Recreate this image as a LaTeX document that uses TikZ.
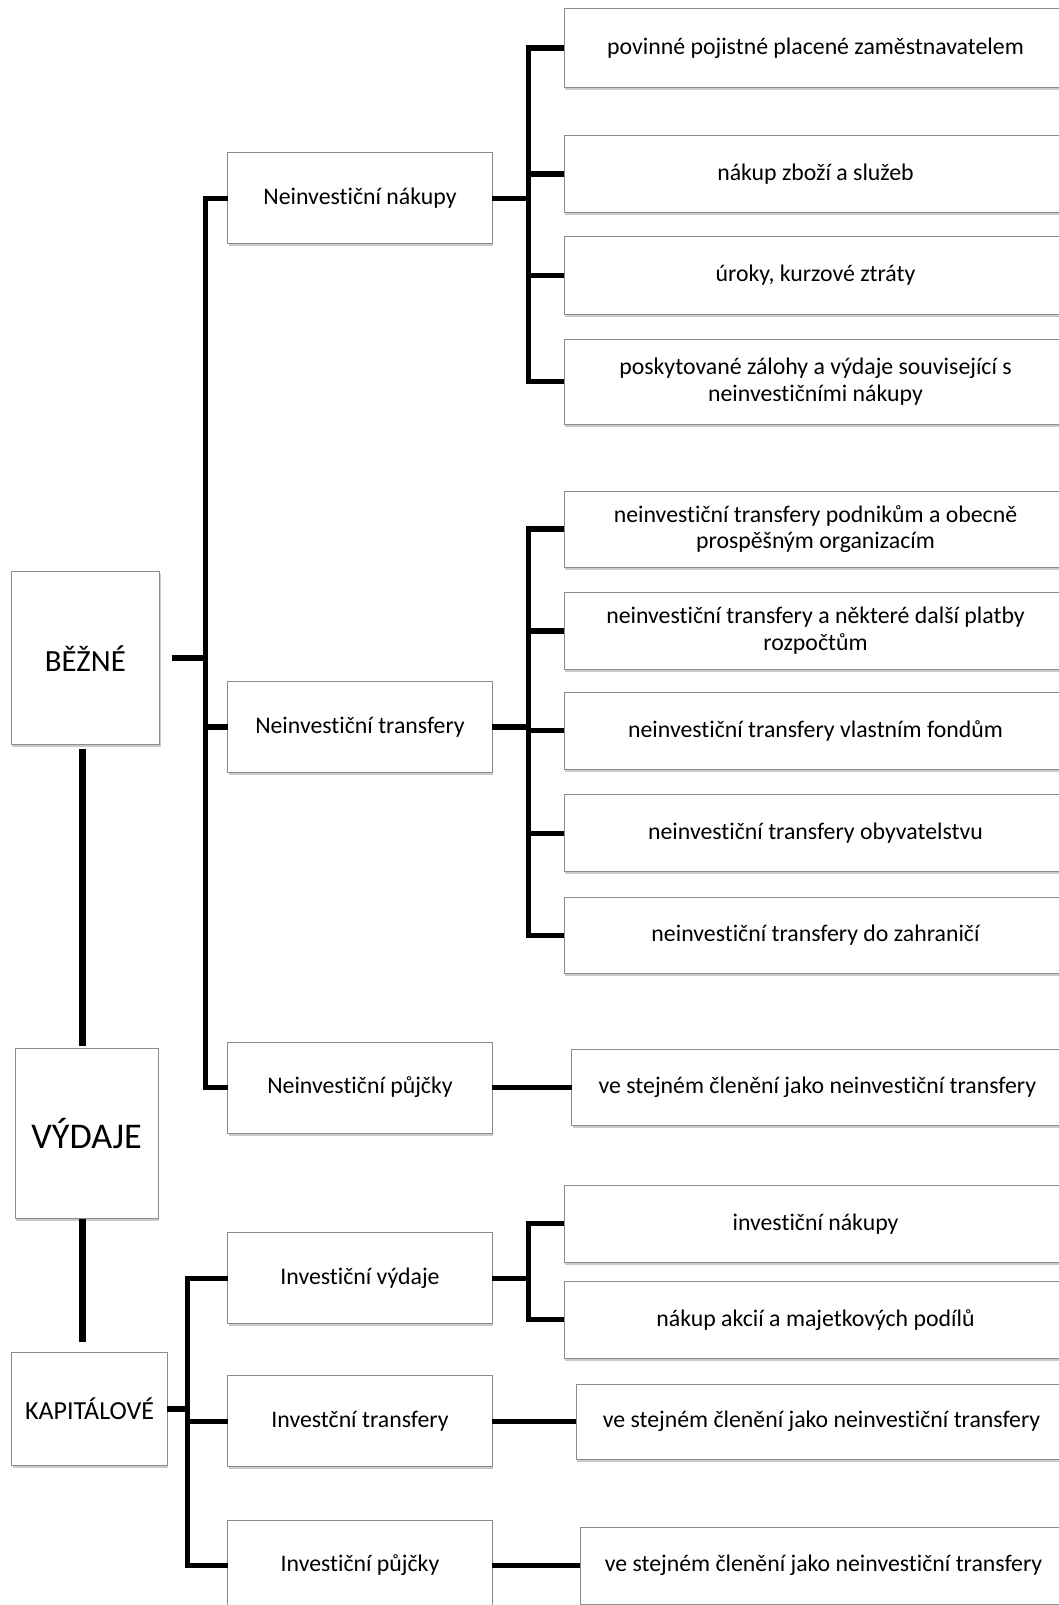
\documentclass[tikz,border=0pt]{standalone}
\usepackage{fontspec}
\setmainfont{Carlito}[Ligatures=CommonOff]
\usetikzlibrary{shadows}
\begin{document}
\begin{tikzpicture}[x=1pt,y=-1pt,
  box/.style={draw=black!45, line width=1pt, fill=white, inner sep=0pt, outer sep=0pt,
    align=center, font=\fontsize{23.8}{26.5}\selectfont,
    drop shadow={shadow xshift=1pt, shadow yshift=-2.5pt, opacity=0.35, fill=black!60}},
  bx/.style 2 args={box, minimum width=#1, minimum height=#2},
  conn/.style={line width=5.5pt, line join=miter, black},
  mainline/.style={line width=6.5pt, black}]
\useasboundingbox (0,0) rectangle (1058,1605);

% left column
\node[bx={148.5pt}{173pt}, font=\fontsize{30.8}{36}\selectfont] (bezne) at (85.3,658.2) {BĚŽNÉ};
\node[bx={143.3pt}{170.3pt}, font=\fontsize{36.2}{42}\selectfont] (vydaje) at (86.7,1133.8) {VÝDAJE};
\node[bx={155.6pt}{113pt}, font=\fontsize{26}{30}\selectfont] (kap) at (89.5,1409.2) {KAPITÁLOVÉ};

% middle column
\node[bx={264.6pt}{91pt}] (nn) at (360,198.3) {Neinvestiční nákupy};
\node[bx={264.6pt}{91pt}] (nt) at (360,727) {Neinvestiční transfery};
\node[bx={264.6pt}{91pt}] (np) at (360,1087.5) {Neinvestiční půjčky};
\node[bx={264.6pt}{91pt}] (iv) at (360,1278.3) {Investiční výdaje};
\node[bx={264.6pt}{91pt}] (it) at (360,1421.3) {Investční transfery};
\node[bx={264.6pt}{91pt}] (ip) at (360,1565.5) {Investiční půjčky};

% right column
\node[bx={503pt}{79pt}] (a1) at (815.5,47.8) {povinné pojistné placené zaměstnavatelem};
\node[bx={503pt}{77pt}] (a2) at (815.5,174.2) {nákup zboží a služeb};
\node[bx={503pt}{77pt}] (a3) at (815.5,275.5) {úroky, kurzové ztráty};
\node[bx={503pt}{85pt}] (a4) at (815.5,381.5) {poskytované zálohy a výdaje související s\\neinvestičními nákupy};

\node[bx={503pt}{76.3pt}] (b1) at (815.5,529.2) {neinvestiční transfery podnikům a obecně\\prospěšným organizacím};
\node[bx={503pt}{77pt}] (b2) at (815.5,630.8) {neinvestiční transfery a některé další platby\\rozpočtům};
\node[bx={503pt}{76.7pt}] (b3) at (815.5,730.7) {neinvestiční transfery vlastním fondům};
\node[bx={503pt}{76.7pt}] (b4) at (815.5,833.3) {neinvestiční transfery obyvatelstvu};
\node[bx={503pt}{76.7pt}] (b5) at (815.5,935.6) {neinvestiční transfery do zahraničí};

\node[bx={491.3pt}{76pt}] (c1) at (817.4,1087) {ve stejném členění jako neinvestiční transfery};

\node[bx={503pt}{77.3pt}] (d1) at (815.5,1223.7) {investiční nákupy};
\node[bx={503pt}{77.3pt}] (d2) at (815.5,1319.7) {nákup akcií a majetkových podílů};

\node[bx={491pt}{75.3pt}] (e1) at (821.5,1421.7) {ve stejném členění jako neinvestiční transfery};
\node[bx={487pt}{77pt}] (f1) at (823.5,1565.7) {ve stejném členění jako neinvestiční transfery};

% bus positions
\coordinate (vx) at (82.3,0);
\coordinate (bA) at (205.7,0);
\coordinate (bB) at (187.3,0);
\coordinate (rx) at (528.3,0);

% main vertical lines
\draw[mainline, shorten <=4.6pt, shorten >=3pt] (vx |- bezne.south) -- (vx |- vydaje.north);
\draw[mainline, shorten >=11pt] (vx |- vydaje.south) -- (vx |- kap.north);

% connectors
\foreach \c in {nn,nt,np}
  \draw[conn, shorten <=12.5pt] (bezne.east) -- (bA |- bezne.east) |- (\c.west);
\foreach \c in {iv,it,ip}
  \draw[conn] (kap.east) -- (bB |- kap.east) |- (\c.west);
\foreach \c in {a1,a2,a3,a4}
  \draw[conn] (nn.east) -- (rx |- nn.east) |- (\c.west);
\foreach \c in {b1,b2,b3,b4,b5}
  \draw[conn] (nt.east) -- (rx |- nt.east) |- (\c.west);
\foreach \c in {d1,d2}
  \draw[conn] (iv.east) -- (rx |- iv.east) |- (\c.west);
\draw[conn] (np.east) -- (np.east -| c1.west);
\draw[conn] (it.east) -- (it.east -| e1.west);
\draw[conn] (ip.east) -- (ip.east -| f1.west);
\end{tikzpicture}
\end{document}
